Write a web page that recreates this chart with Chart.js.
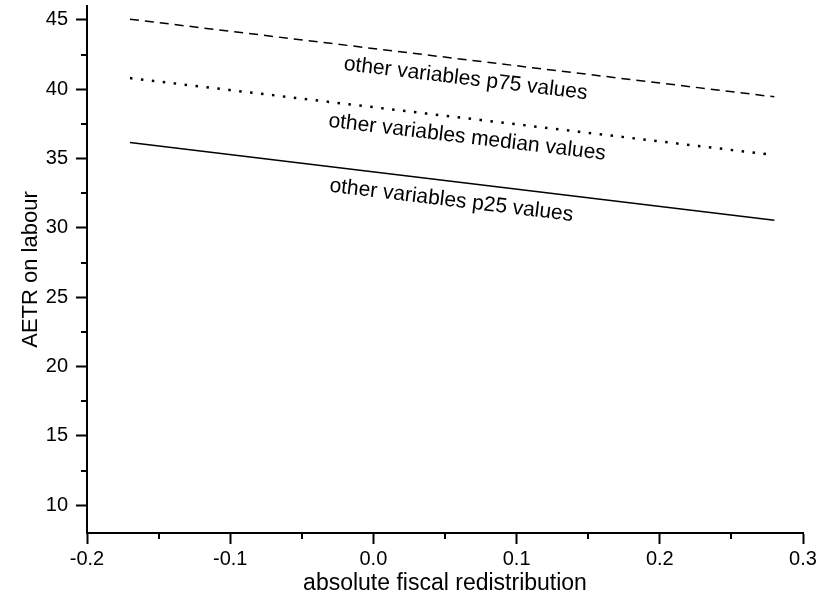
<!DOCTYPE html>
<html>
<head>
<meta charset="utf-8">
<script src="https://cdn.jsdelivr.net/npm/chart.js@4/dist/chart.umd.min.js"></script>
<style>
html,body{margin:0;padding:0;background:#fff;}
#wrap{width:826px;height:599px;}
</style>
</head>
<body>
<div id="wrap"><canvas id="c" width="826" height="599"></canvas></div>
<script>
// Data
const xValues = [-0.17, 0.28];
const p75Values = [45.05, 39.45];
const medianValues = [40.8, 35.25];
const p25Values = [36.15, 30.55];
const seriesNames = ["other variables p75 values", "other variables median values", "other variables p25 values"];
const xTicks = [-0.2, -0.15, -0.1, -0.05, 0.0, 0.05, 0.1, 0.15, 0.2, 0.25, 0.3];
const yTicks = [10, 12.5, 15, 17.5, 20, 22.5, 25, 27.5, 30, 32.5, 35, 37.5, 40, 42.5, 45];
const xTitle = "absolute fiscal redistribution";
const yTitle = "AETR on labour";

const FONT = "'Liberation Sans', Arial, Helvetica, sans-serif";

function pts(ys){ return xValues.map((x,i)=>({x:x, y:ys[i]})); }
function isMajorX(v){ return Math.abs(Math.round(v*10) - v*10) < 1e-6; }
function isMajorY(v){ return Math.abs(v % 5) < 1e-6; }

const labelAnchors = [0.066, 0.067, 0.056];

const lineLabels = {
  id: 'lineLabels',
  afterDatasetsDraw(chart){
    const ctx = chart.ctx;
    const xs = chart.scales.x, ys = chart.scales.y;
    chart.data.datasets.forEach((ds, i) => {
      const d = ds.data;
      const x0 = xs.getPixelForValue(d[0].x), y0 = ys.getPixelForValue(d[0].y);
      const x1 = xs.getPixelForValue(d[1].x), y1 = ys.getPixelForValue(d[1].y);
      const ang = Math.atan2(y1 - y0, x1 - x0);
      const ax = xs.getPixelForValue(labelAnchors[i]);
      const t = (ax - x0) / (x1 - x0);
      const ay = y0 + t * (y1 - y0);
      const off = 19;
      const cx = ax - Math.sin(ang) * off;
      const cy = ay + Math.cos(ang) * off;
      ctx.save();
      ctx.translate(cx, cy);
      ctx.rotate(ang);
      ctx.font = "21px " + FONT;
      ctx.fillStyle = "#000";
      ctx.textAlign = "center";
      ctx.textBaseline = "middle";
      ctx.fillText(ds.label, 0, 0);
      ctx.restore();
    });
  }
};

const minorTicks = {
  id: 'minorTicks',
  afterDraw(chart){
    const ctx = chart.ctx;
    const xs = chart.scales.x, ys = chart.scales.y;
    const ca = chart.chartArea;
    ctx.save();
    ctx.strokeStyle = "#000";
    ctx.lineWidth = 2;
    ctx.beginPath();
    xTicks.forEach(v => {
      if (!isMajorX(v)) {
        const px = Math.round(xs.getPixelForValue(v));
        ctx.moveTo(px, ca.bottom);
        ctx.lineTo(px, ca.bottom + 6);
      }
    });
    yTicks.forEach(v => {
      if (!isMajorY(v)) {
        const py = Math.round(ys.getPixelForValue(v));
        ctx.moveTo(ca.left, py);
        ctx.lineTo(ca.left - 6, py);
      }
    });
    ctx.stroke();
    ctx.restore();
  }
};

new Chart(document.getElementById('c'), {
  type: 'scatter',
  data: {
    datasets: [
      { label: seriesNames[0], data: pts(p75Values), showLine: true, borderColor: '#000', borderWidth: 1.5, borderDash: [9, 6], pointRadius: 0 },
      { label: seriesNames[1], data: pts(medianValues), showLine: true, borderColor: '#000', borderWidth: 2.5, borderDash: [2.5, 8.5], pointRadius: 0 },
      { label: seriesNames[2], data: pts(p25Values), showLine: true, borderColor: '#000', borderWidth: 1.5, pointRadius: 0 }
    ]
  },
  options: {
    responsive: false,
    animation: false,
    events: [],
    layout: { padding: { top: 6, right: 23, left: 18, bottom: 0 } },
    plugins: { legend: { display: false }, tooltip: { enabled: false } },
    scales: {
      x: {
        type: 'linear',
        position: 'bottom',
        min: -0.2, max: 0.3,
        afterBuildTicks(s){ s.ticks = xTicks.map(v => ({ value: v })); },
        afterFit(s){ s.height = 66; s.paddingLeft = 0; s.paddingRight = 0; },
        border: { color: '#000', width: 2 },
        grid: { drawOnChartArea: false, drawTicks: true, tickLength: 11, tickWidth: 2,
                tickColor: c => (c.tick && isMajorX(c.tick.value)) ? '#000' : 'rgba(0,0,0,0)' },
        ticks: { autoSkip: false, maxRotation: 0, color: '#000', padding: 3,
                 font: { family: FONT, size: 20 },
                 callback: v => isMajorX(v) ? Number(v).toFixed(1) : '' },
        title: { display: true, text: xTitle, color: '#000', font: { family: FONT, size: 23 }, padding: { top: 0, bottom: 2 } }
      },
      y: {
        type: 'linear',
        min: 8, max: 46,
        afterBuildTicks(s){ s.ticks = yTicks.map(v => ({ value: v })); },
        afterFit(s){ s.width = 69; s.paddingTop = 0; s.paddingBottom = 0; },
        border: { color: '#000', width: 2 },
        grid: { drawOnChartArea: false, drawTicks: true, tickLength: 11, tickWidth: 2,
                tickColor: c => (c.tick && isMajorY(c.tick.value)) ? '#000' : 'rgba(0,0,0,0)' },
        ticks: { autoSkip: false, color: '#000', padding: 8,
                 font: { family: FONT, size: 20 },
                 callback: v => isMajorY(v) ? String(v) : '' },
        title: { display: true, text: yTitle, color: '#000', font: { family: FONT, size: 22 }, padding: { top: 0, bottom: 0 } }
      }
    }
  },
  plugins: [lineLabels, minorTicks]
});
</script>
</body>
</html>
